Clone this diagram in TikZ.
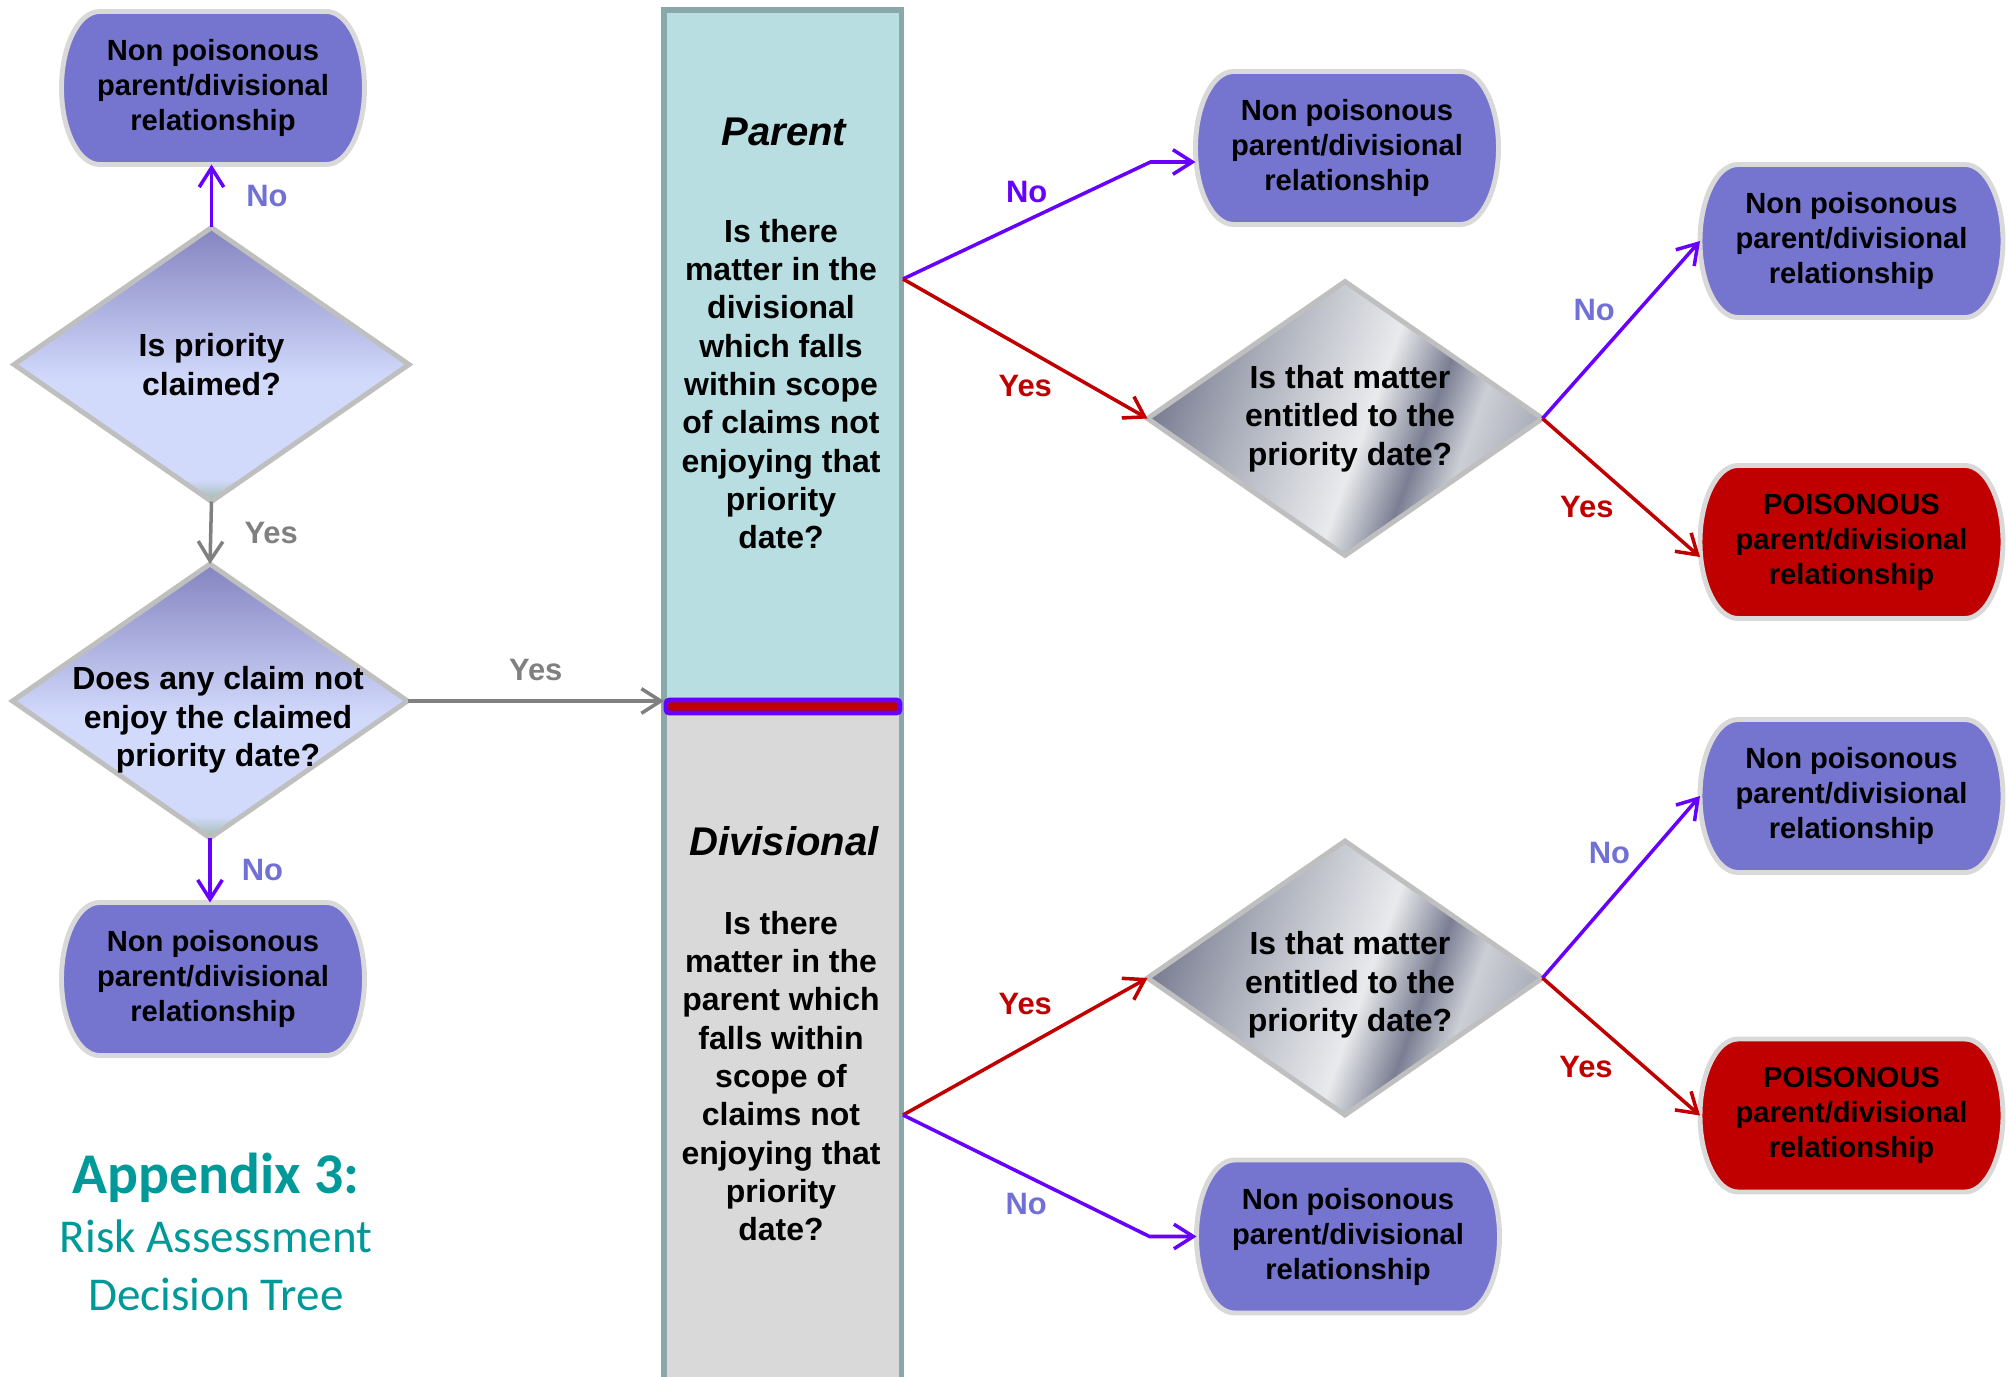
\documentclass[tikz,border=0pt]{standalone}
\usepackage{fontspec}
\setmainfont{Liberation Sans}
\newfontfamily\calib{Carlito}
\usetikzlibrary{shapes.geometric,arrows.meta,backgrounds}

\definecolor{termblue}{RGB}{117,117,207}
\definecolor{termrim}{RGB}{217,217,217}
\definecolor{poisred}{RGB}{192,0,0}
\definecolor{diarim}{RGB}{191,191,191}
\definecolor{parentfill}{RGB}{184,222,225}
\definecolor{divfill}{RGB}{217,217,217}
\definecolor{barrim}{RGB}{138,168,170}
\definecolor{novio}{RGB}{102,0,255}
\definecolor{nolab}{RGB}{112,112,214}
\definecolor{yesred}{RGB}{192,0,0}
\definecolor{yesgray}{RGB}{128,128,128}
\definecolor{apteal}{RGB}{0,153,153}
\definecolor{qtop}{RGB}{132,132,192}
\definecolor{qlight}{RGB}{210,218,252}
\definecolor{qgreen}{RGB}{160,186,172}
\definecolor{mdark}{RGB}{122,126,146}
\definecolor{mmid}{RGB}{170,174,186}
\definecolor{mlight}{RGB}{205,207,214}
\definecolor{mwhite}{RGB}{233,234,236}

\pgfdeclareverticalshading{qshade}{100bp}{color(0bp)=(qgreen); color(25bp)=(qgreen); color(29bp)=(qlight); color(47bp)=(qlight); color(75bp)=(qtop); color(100bp)=(qtop)}
\pgfdeclarehorizontalshading{metal}{100bp}{color(0bp)=(mdark); color(25bp)=(mdark); color(36bp)=(mmid); color(45bp)=(mlight); color(53bp)=(mwhite); color(61bp)=(mdark); color(67bp)=(mlight); color(75bp)=(mmid); color(100bp)=(mmid)}

\tikzset{
  term/.style={rectangle, minimum width=3.03cm, minimum height=1.53cm, inner sep=0pt, outer sep=0pt, align=center, font=\bfseries\fontsize{8.3}{9.96}\selectfont},
  quest/.style={diamond, draw=diarim, line width=1.4pt, minimum width=3.95cm, minimum height=2.74cm, inner sep=0pt, outer sep=0pt},
  qtext/.style={align=center, font=\bfseries\fontsize{9.1}{10.9}\selectfont},
  lab/.style={inner sep=0pt, font=\bfseries\fontsize{8.8}{10}\selectfont},
  noarrow/.style={->, novio, line width=1pt},
  yesarrow/.style={->, yesred, line width=1pt},
  grayarrow/.style={->, yesgray, line width=1pt},
  >={Straight Barb[length=5.5pt,width=7pt]}
}

\begin{document}
\begin{tikzpicture}
\useasboundingbox (0,0) rectangle (20.08,-13.77);

% central column
\node[draw=barrim, fill=parentfill, line width=1.7pt, outer sep=0pt, minimum width=2.375cm, minimum height=6.96cm, anchor=north west] (parentbox) at (6.64,-0.10) {};
\node[draw=barrim, fill=divfill, line width=1.7pt, outer sep=0pt, minimum width=2.375cm, minimum height=7.0cm, anchor=north west] (divbox) at (6.64,-7.05) {};
\draw[novio, line width=1.4pt, fill=yesred, rounded corners=1pt] (6.66,-7.00) rectangle (9.00,-7.13);
\node[font=\bfseries\itshape\fontsize{11.4}{13}\selectfont] (ptitle) at (7.84,-1.32) {Parent};
\node[qtext] (pbody) at (7.81,-3.84) {Is there\\matter in the\\divisional\\which falls\\within scope\\of claims not\\enjoying that\\priority\\date?};
\node[font=\bfseries\itshape\fontsize{11.4}{13}\selectfont] (dtitle) at (7.84,-8.41) {Divisional};
\node[qtext] (dbody) at (7.81,-10.76) {Is there\\matter in the\\parent which\\falls within\\scope of\\claims not\\enjoying that\\priority\\date?};
\coordinate (pfork) at (9.03,-2.79);
\coordinate (dfork) at (9.03,-11.15);

% questions
\node[quest, shade, shading=qshade, label={[qtext]center:{Is priority\\claimed?}}] (q1) at (2.115,-3.645) {};
\node[quest, shade, shading=qshade, label={[qtext, xshift=0.08cm, yshift=-0.19cm]center:{Does any claim not\\enjoy the claimed\\priority date?}}] (q2) at (2.10,-7.01) {};
\node[quest, shade, shading=metal, shading angle=-20, label={[qtext, xshift=0.05cm]center:{Is that matter\\entitled to the\\priority date?}}] (q3) at (13.45,-4.185) {};
\node[quest, shade, shading=metal, shading angle=-20, label={[qtext, xshift=0.05cm, yshift=-0.07cm]center:{Is that matter\\entitled to the\\priority date?}}] (q4) at (13.45,-9.78) {};

% outcomes
\node[term] (t1) at (2.13,-0.88) {Non poisonous\\parent/divisional\\relationship};
\node[term] (t2) at (2.13,-9.79) {Non poisonous\\parent/divisional\\relationship};
\node[term] (t3) at (13.47,-1.48) {Non poisonous\\parent/divisional\\relationship};
\node[term] (t4) at (18.515,-2.41) {Non poisonous\\parent/divisional\\relationship};
\node[term] (p1) at (18.515,-5.42) {POISONOUS\\parent/divisional\\relationship};
\node[term] (t5) at (18.515,-7.96) {Non poisonous\\parent/divisional\\relationship};
\node[term] (p2) at (18.515,-11.155) {POISONOUS\\parent/divisional\\relationship};
\node[term] (t6) at (13.48,-12.365) {Non poisonous\\parent/divisional\\relationship};
\begin{scope}[on background layer]
\foreach \n/\c in {t1/termblue,t2/termblue,t3/termblue,t4/termblue,t5/termblue,t6/termblue,p1/poisred,p2/poisred}
{
\draw[termrim, line width=1.4pt, fill=\c] ([xshift=0.38cm]\n.north west) -- ([xshift=-0.38cm]\n.north east) arc[start angle=90, end angle=-90, x radius=0.38cm, y radius=0.765cm] -- ([xshift=0.38cm]\n.south west) arc[start angle=270, end angle=90, x radius=0.38cm, y radius=0.765cm] -- cycle;
}
\end{scope}

% title
\node[anchor=base, text=apteal, font=\calib\bfseries\fontsize{16.4}{19}\selectfont] (aphead) at (2.16,-11.93) {Appendix 3:};
\node[anchor=base, text=apteal, font=\calib\fontsize{13.4}{16}\selectfont] (apline1) at (2.16,-12.52) {Risk Assessment};
\node[anchor=base, text=apteal, font=\calib\fontsize{13.4}{16}\selectfont] (apline2) at (2.16,-13.10) {Decision Tree};

% left branch
\draw[noarrow] (q1.north) -- node[lab, text=nolab, right=0.33cm]{No} (t1.south -| q1.north);
\draw[grayarrow] (q1.south) -- node[lab, text=yesgray, right=0.32cm]{Yes} (q2.north);
\draw[noarrow] (q2.south) -- node[lab, text=nolab, right=0.3cm]{No} (t2.north -| q2.south);
\draw[grayarrow] (q2.east) -- node[lab, text=yesgray, above=0.18cm]{Yes} (q2.east -| parentbox.west);

% parent branch
\draw[noarrow] (pfork) -- node[lab, text=novio, above=0.16cm]{No} ([xshift=-0.45cm,yshift=-0.14cm]t3.west) -- ([yshift=-0.14cm]t3.west);
\draw[yesarrow] (pfork) -- node[lab, text=yesred, below=0.245cm]{Yes} (q3.west);
\draw[noarrow] (q3.east) -- node[lab, text=nolab, pos=0.61, left=0.22cm]{No} (t4.west);
\draw[yesarrow] (q3.east) -- node[lab, text=yesred, pos=0.64, left=0.28cm]{Yes} ([yshift=-0.15cm]p1.west);

% divisional branch
\draw[yesarrow] (dfork) -- node[lab, text=yesred, above=0.3cm]{Yes} (q4.west);
\draw[noarrow] (dfork) -- node[lab, text=nolab, below=0.155cm]{No} ([xshift=-0.47cm]t6.west) -- (t6.west);
\draw[noarrow] (q4.east) -- node[lab, text=nolab, pos=0.685, left=0.185cm]{No} (t5.west);
\draw[yesarrow] (q4.east) -- node[lab, text=yesred, pos=0.647, left=0.3cm]{Yes} (p2.west);

\end{tikzpicture}
\end{document}
